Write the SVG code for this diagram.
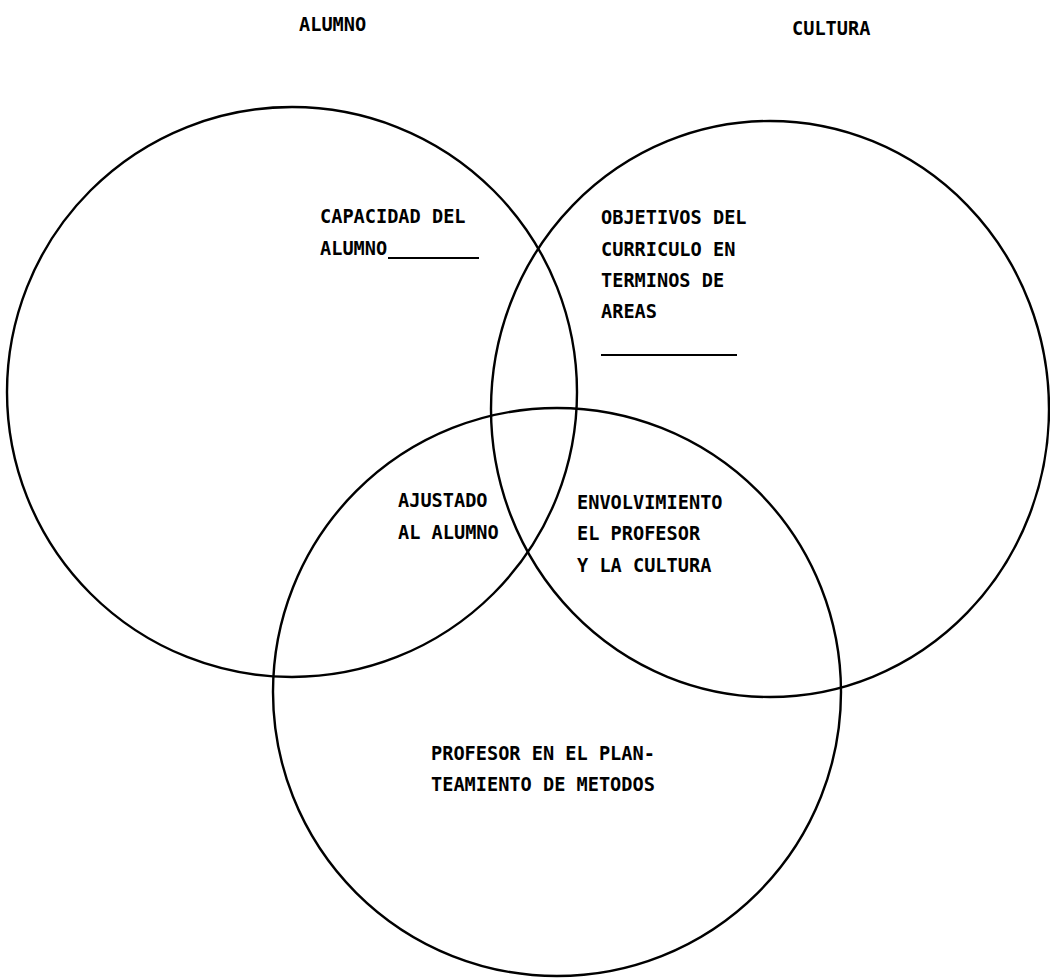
<svg xmlns="http://www.w3.org/2000/svg" width="1050" height="980" viewBox="0 0 1050 980">
<style>
.c{fill:none;stroke:#000;stroke-width:2.4}
.t{font-family:"DejaVu Sans Mono","Liberation Mono",monospace;font-weight:bold;font-size:18.6px;fill:#000}
.u{stroke:#000;stroke-width:2}
</style>
<rect width="1050" height="980" fill="#fff"/>
<g id="alumno">
<circle class="c" cx="292" cy="392" r="285"/>
<text class="t" x="299" y="31">ALUMNO</text>
<text class="t" x="320" y="223">CAPACIDAD DEL</text>
<text class="t" x="320" y="255">ALUMNO</text>
<line class="u" x1="388" y1="258" x2="479" y2="258"/>
</g>
<g id="cultura">
<ellipse class="c" cx="770" cy="409" rx="279" ry="288"/>
<text class="t" x="792" y="35">CULTURA</text>
<text class="t" x="601" y="224">OBJETIVOS DEL</text>
<text class="t" x="601" y="256">CURRICULO EN</text>
<text class="t" x="601" y="287">TERMINOS DE</text>
<text class="t" x="601" y="318">AREAS</text>
<line class="u" x1="601" y1="355" x2="737" y2="355"/>
</g>
<g id="profesor">
<circle class="c" cx="557" cy="692" r="284"/>
<text class="t" x="431" y="760">PROFESOR EN EL PLAN-</text>
<text class="t" x="431" y="791">TEAMIENTO DE METODOS</text>
</g>
<g id="ajustado">
<text class="t" x="398" y="507">AJUSTADO</text>
<text class="t" x="398" y="539">AL ALUMNO</text>
</g>
<g id="envolvimiento">
<text class="t" x="577" y="509">ENVOLVIMIENTO</text>
<text class="t" x="577" y="540">EL PROFESOR</text>
<text class="t" x="577" y="572">Y LA CULTURA</text>
</g>
<g id="connectors"></g>
</svg>
